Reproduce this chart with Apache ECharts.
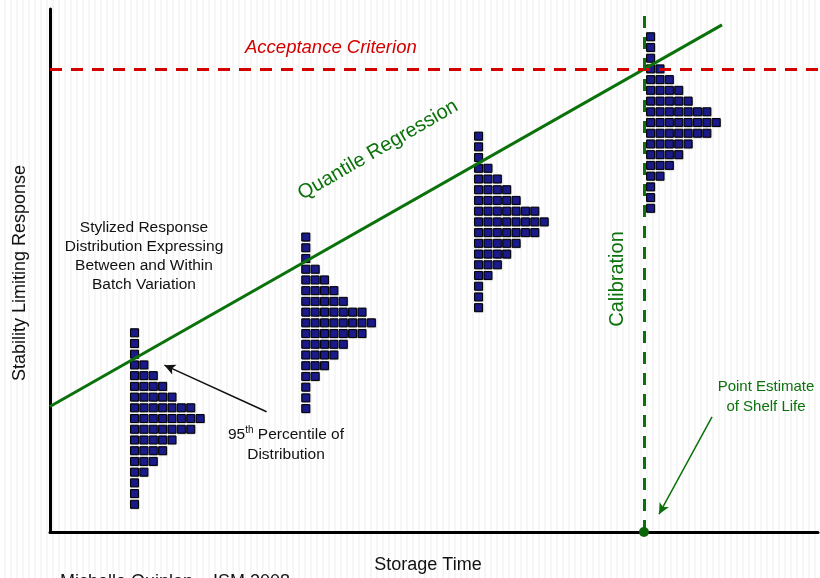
<!DOCTYPE html>
<html>
<head>
<meta charset="utf-8">
<script src="https://cdn.jsdelivr.net/npm/echarts@6/dist/echarts.min.js"></script>
<style>
html,body{margin:0;padding:0;background:#fff;}
#chart{width:820px;height:578px;background:repeating-linear-gradient(90deg,#ffffff 0px,#ffffff 4px,#f6f6f6 4px,#f6f6f6 6px);}
</style>
</head>
<body>
<div id="chart"></div>
<script>
// ---- data ----
const timePoints = [11.0, 33.3, 55.8, 78.2];        // storage time of each stylized distribution
const responseLevels = [21.7, 40.0, 59.3, 78.3];    // centre response of each distribution
const rowCounts = [1, 1, 1, 2, 3, 4, 5, 7, 8, 7, 5, 4, 3, 2, 1, 1, 1]; // squares per row, top to bottom
const binHeight = 2.05;   // response units per row
const binWidth = 1.22;    // time units per square
const acceptanceCriterion = 88.5;
const regIntercept = 24.0;
const regSlope = 0.834;
const regRange = [0, 87.5];
const percentileArrow = [[28.2, 23.0], [14.9, 31.9]];
const shelfLifeArrow = [[86.2, 22.0], [79.3, 3.4]];

// ---- derived ----
const squares = [];
timePoints.forEach((t, i) => {
  const mid = (rowCounts.length - 1) / 2;
  rowCounts.forEach((n, r) => {
    const y = responseLevels[i] + (mid - r) * binHeight;
    for (let c = 0; c < n; c++) squares.push([t + c * binWidth, y]);
  });
});
const regLine = regRange.map(x => [x, regIntercept + regSlope * x]);
const calX = (acceptanceCriterion - regIntercept) / regSlope;

const FONT = "'Liberation Sans', Arial, sans-serif";
const GREEN = '#0b720b';

const chart = echarts.init(document.getElementById('chart'), null, {renderer: 'canvas'});
chart.setOption({
  animation: false,
  backgroundColor: 'transparent',
  grid: {left: 50, right: 2, top: 9, bottom: 46, containLabel: false},
  xAxis: {
    type: 'value', min: 0, max: 100,
    axisLine: {show: true, onZero: false, lineStyle: {color: '#000', width: 3}},
    axisTick: {show: false}, axisLabel: {show: false}, splitLine: {show: false}
  },
  yAxis: {
    type: 'value', min: 0, max: 100,
    axisLine: {show: true, onZero: false, lineStyle: {color: '#000', width: 3}},
    axisTick: {show: false}, axisLabel: {show: false}, splitLine: {show: false}
  },
  series: [
    {
      type: 'scatter', data: squares, symbol: 'rect', symbolSize: [8, 8], z: 2,
      itemStyle: {color: '#1a1a8a', opacity: 1, borderColor: '#000', borderWidth: 1,
        shadowColor: 'rgba(0,0,0,0.3)', shadowBlur: 1, shadowOffsetX: 0.5, shadowOffsetY: 0.5},
      silent: true
    },
    {
      type: 'line', data: regLine, symbol: 'none', z: 4, silent: true,
      lineStyle: {color: GREEN, width: 3}
    },
    {
      type: 'line', data: [], z: 5, silent: true,
      markLine: {
        silent: true, symbol: ['none', 'none'], label: {show: false},
        data: [
          {yAxis: acceptanceCriterion, lineStyle: {color: '#d40000', width: 3, type: [12, 9]}},
          {xAxis: calX, lineStyle: {color: GREEN, width: 3, type: [12, 9]}}
        ]
      }
    },
    {
      type: 'line', data: [], z: 6, silent: true,
      markLine: {
        silent: true, symbol: ['none', 'arrow'], symbolSize: [8, 11], label: {show: false},
        data: [
          [{coord: percentileArrow[0], lineStyle: {color: '#111', width: 1.5, type: 'solid'}},
           {coord: percentileArrow[1]}],
          [{coord: shelfLifeArrow[0], lineStyle: {color: GREEN, width: 1.5, type: 'solid'}},
           {coord: shelfLifeArrow[1]}]
        ]
      }
    },
    {
      type: 'scatter', data: [[calX, 0]], symbol: 'circle', symbolSize: 10, clip: false, z: 7,
      itemStyle: {color: '#0a640a', opacity: 1}, silent: true
    }
  ],
  graphic: [
    {type: 'text', x: 245, y: 48, z: 10, style: {text: 'Acceptance Criterion', font: 'italic 18.5px ' + FONT, fill: '#d40000', align: 'left', verticalAlign: 'middle'}},
    {type: 'text', x: 378, y: 150, rotation: 30 * Math.PI / 180, z: 10, style: {text: 'Quantile Regression', font: '20px ' + FONT, fill: GREEN, align: 'center', verticalAlign: 'middle'}},
    {type: 'text', x: 144, y: 256, z: 10, style: {text: 'Stylized Response\nDistribution Expressing\nBetween and Within\nBatch Variation', font: '15.5px ' + FONT, fill: '#111', align: 'center', verticalAlign: 'middle', lineHeight: 19}},
    {type: 'text', x: 286, y: 445, z: 10, style: {
      text: '95{sup|th} Percentile of\nDistribution', font: '15.5px ' + FONT, fill: '#111', align: 'center', verticalAlign: 'middle', lineHeight: 20,
      rich: {sup: {fontSize: 10, fontFamily: FONT, fill: '#111', verticalAlign: 'top', lineHeight: 20, padding: [0, 0, 8, 0]}}
    }},
    {type: 'text', x: 617, y: 279, rotation: Math.PI / 2, z: 10, style: {text: 'Calibration', font: '20px ' + FONT, fill: GREEN, align: 'center', verticalAlign: 'middle'}},
    {type: 'text', x: 766, y: 397, z: 10, style: {text: 'Point Estimate\nof Shelf Life', font: '15px ' + FONT, fill: GREEN, align: 'center', verticalAlign: 'middle', lineHeight: 19.5}},
    {type: 'text', x: 428, y: 565, z: 10, style: {text: 'Storage Time', font: '18px ' + FONT, fill: '#111', align: 'center', verticalAlign: 'middle'}},
    {type: 'text', x: 20, y: 273, rotation: Math.PI / 2, z: 10, style: {text: 'Stability Limiting Response', font: '18px ' + FONT, fill: '#111', align: 'center', verticalAlign: 'middle'}},
    {type: 'text', x: 60, y: 573, z: 10, style: {text: 'Michelle Quinlan – ISM 2008', font: '18px ' + FONT, fill: '#111', align: 'left', verticalAlign: 'top'}}
  ]
});
</script>
</body>
</html>
